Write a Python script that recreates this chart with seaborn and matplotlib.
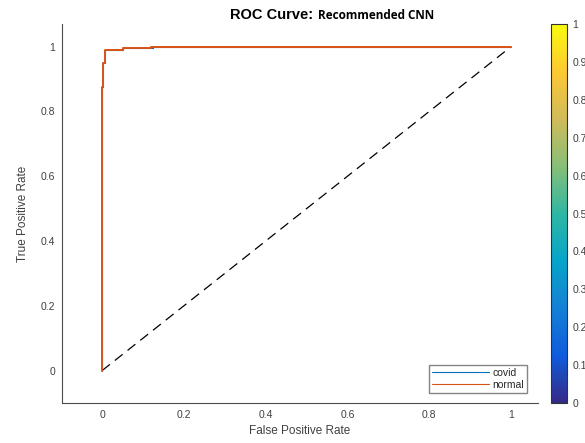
import numpy as np
import pandas as pd
import seaborn as sns
import matplotlib.pyplot as plt
from matplotlib.colors import LinearSegmentedColormap
from matplotlib.cm import ScalarMappable

# --- data ---
fpr_covid = [0.0, 0.0, 0.002, 0.002, 0.007, 0.007, 0.05, 0.05, 0.125, 0.125, 1.0]
tpr_covid = [0.0, 0.877, 0.877, 0.95, 0.95, 0.99, 0.99, 0.995, 0.995, 1.0, 1.0]
fpr_normal = [0.0, 0.0, 0.002, 0.002, 0.006, 0.006, 0.05, 0.05, 0.12, 0.12, 1.0]
tpr_normal = [0.0, 0.875, 0.875, 0.95, 0.95, 0.99, 0.99, 0.995, 0.995, 1.0, 1.0]
classes = ['covid', 'normal']
colors = ['#0072BD', '#D95319']
widths = [0.8, 1.4]

xticks = [0, 0.2, 0.4, 0.6, 0.8, 1]
yticks = [0, 0.2, 0.4, 0.6, 0.8, 1]
cbar_ticks = [0, 0.1, 0.2, 0.3, 0.4, 0.5, 0.6, 0.7, 0.8, 0.9, 1]

curves = {'covid': (fpr_covid, tpr_covid), 'normal': (fpr_normal, tpr_normal)}

# parula-like colormap
parula = LinearSegmentedColormap.from_list('parula', [
    '#352a87', '#0f5cdd', '#1481d6', '#06a4ca', '#2eb7a4',
    '#87bf77', '#d1bb59', '#fec832', '#f9fb0e'])

sns.set_style('white')
plt.rcParams['font.family'] = ['Liberation Sans', 'DejaVu Sans']

W, H = 585, 443
fig = plt.figure(figsize=(W / 100, H / 100), dpi=100)
gray = '#262626'

def box(l, t, r, b):
    return [l / W, 1 - b / H, (r - l) / W, (b - t) / H]

ax = fig.add_axes(box(62, 24, 538, 403))
cax = fig.add_axes(box(551, 24, 567, 403))

ax.plot([0, 1], [0, 1], ls=(0, (8, 5)), color='black', lw=0.9, zorder=1)
for i, (name, c, w) in enumerate(zip(classes, colors, widths)):
    fx, ty = curves[name]
    d = pd.DataFrame({'fpr': fx, 'tpr': ty})
    sns.lineplot(data=d, x='fpr', y='tpr', color=c, estimator=None, sort=False,
                 lw=w, ax=ax, label=name, zorder=2 + i)

ax.set_xlim(-0.098, 1.066)
ax.set_ylim(-0.1, 1.07)
ax.set_xticks(xticks)
ax.set_xticklabels(['0', '0.2', '0.4', '0.6', '0.8', '1'])
ax.set_yticks(yticks)
ax.set_yticklabels(['0', '0.2', '0.4', '0.6', '0.8', '1'])
ax.tick_params(direction='in', length=3, width=0.6, colors=gray,
               labelsize=7.5, labelcolor='#404040', pad=5)
for s in ['top', 'right']:
    ax.spines[s].set_visible(False)
for s in ['left', 'bottom']:
    ax.spines[s].set_color('#4d4d4d')
    ax.spines[s].set_linewidth(0.8)
ax.set_xlabel('False Positive Rate', fontsize=8.5, color='#404040', labelpad=4)
ax.set_ylabel('True Positive Rate', fontsize=8.5, color='#404040', labelpad=8)

handles, labels = ax.get_legend_handles_labels()
leg = ax.legend(handles, labels, loc='lower right',
                bbox_to_anchor=(527 / W, 1 - 393 / H),
                bbox_transform=fig.transFigure, fontsize=7.5, frameon=True,
                fancybox=False, edgecolor='#666666', handlelength=5.5,
                borderpad=0.3, labelspacing=0.2, handletextpad=0.3, borderaxespad=0)
for h in leg.get_lines():
    h.set_linewidth(0.8)

# colorbar
cb = fig.colorbar(ScalarMappable(cmap=parula), cax=cax, ticks=cbar_ticks)
cb.ax.tick_params(direction='in', length=3, width=0.6, labelsize=7.5,
                  colors=gray, labelcolor='#404040', pad=4)
cb.ax.set_yticklabels(['0', '0.1', '0.2', '0.3', '0.4', '0.5', '0.6', '0.7',
                       '0.8', '0.9', '1'])
cb.outline.set_edgecolor('#333333')
cb.outline.set_linewidth(0.8)

# title in two fonts
fig.text(230 / W, 1 - 19 / H, 'ROC Curve:', fontsize=10.5, fontweight='bold',
         ha='left', va='baseline', color='black')
fig.text(318 / W, 1 - 19 / H, 'Recommended CNN', fontsize=8.5, fontweight='bold',
         family=['Open Sans', 'DejaVu Sans'], ha='left', va='baseline', color='black')

fig.savefig('out.png', dpi=100)
